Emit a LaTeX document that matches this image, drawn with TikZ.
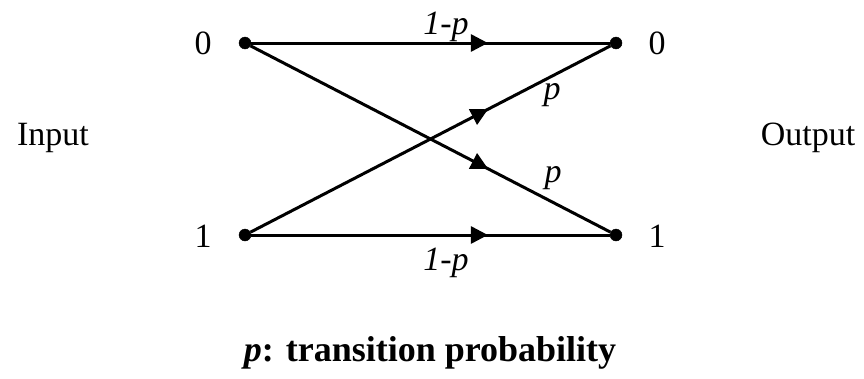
\documentclass[tikz,border=0pt]{standalone}
\usepackage{fontspec}
\setmainfont{Liberation Serif}
\usetikzlibrary{arrows.meta,positioning,decorations.markings}

\begin{document}
\begin{tikzpicture}[x=1pt,y=-1pt,
  dot/.style={draw,circle,fill=black,inner sep=0pt,minimum size=12pt},
  lbl/.style={font=\fontsize{34}{36}\selectfont},
  plbl/.style={font=\fontsize{34}{36}\selectfont\itshape},
  chan/.style={line width=3pt,postaction={decorate},
    decoration={markings,mark=at position 0.66 with {\arrow{Triangle[length=17pt,width=17pt]}}}}]
\useasboundingbox (0,0) rectangle (864,378);
\node[dot] (in0) at (245,43) {};
\node[dot] (in1) at (245,235) {};
\node[dot] (out0) at (616,43) {};
\node[dot] (out1) at (616,235) {};
\node[lbl] (l0) at (203,43) {0};
\node[lbl] (l1) at (203,236) {1};
\node[lbl] (r0) at (657,43) {0};
\node[lbl] (r1) at (657,236) {1};
\node[lbl] (inp) at (53,138) {Input};
\node[lbl] (outp) at (808,138) {Output};
\draw[chan] (in0) -- (out0);
\draw[chan] (in1) -- (out1);
\draw[chan] (in0) -- (out1);
\draw[chan] (in1) -- (out0);
\node[plbl] (q0) at (446,27) {1-p};
\node[plbl] (q1) at (446,263) {1-p};
\node[plbl] (p0) at (552,95) {p};
\node[plbl] (p1) at (553,178) {p};
\node[font=\fontsize{36}{38}\selectfont\bfseries] (cap) at (430,353) {\textit{p}: transition probability};
\end{tikzpicture}
\end{document}
